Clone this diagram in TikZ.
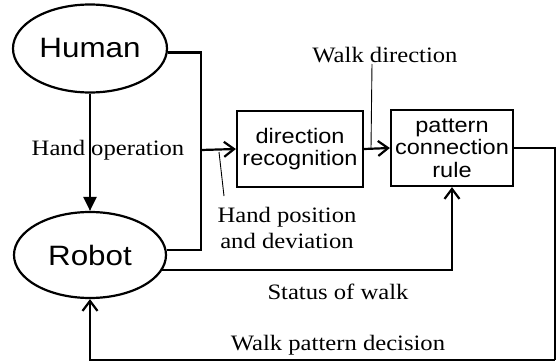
\documentclass[tikz,border=0pt]{standalone}
\usepackage{fontspec}
\setmainfont{Liberation Serif}[FakeStretch=1.12]
\setsansfont{Liberation Sans}[FakeStretch=1.12]
\usepackage{tikz}
\usetikzlibrary{shapes.geometric, arrows.meta, positioning}

\begin{document}
\begin{tikzpicture}[x=1pt, y=-1pt,
  blob/.style={draw, ellipse, line width=2.2pt, inner sep=0pt,
               font=\sffamily\fontsize{28}{30}\selectfont},
  box/.style={draw, line width=2.2pt, align=center, inner sep=0pt,
              minimum height=76pt, font=\sffamily\fontsize{21}{22.5}\selectfont},
  lbl/.style={align=center, inner sep=0pt, font=\fontsize{22}{26}\selectfont},
  wire/.style={line width=2.2pt},
  open/.style={wire, -{Straight Barb[length=10pt, width=15pt]}},
  leader/.style={line width=0.9pt}
]
\useasboundingbox (0,0) rectangle (558,364);
\node[blob, minimum width=154pt, minimum height=88pt] (human) at (90, 48.5) {Human};
\node[blob, minimum width=152pt, minimum height=86pt] (robot) at (90, 255) {Robot};
\node[box, minimum width=126pt] (dirrec)  at (300, 149) {direction\\recognition};
\node[box, minimum width=122pt] (pattern) at (452, 148) {pattern\\connection\\rule};
\coordinate (jn) at (201, 150);
\coordinate (fb) at (555, 360);
\node[lbl] (handop)  at (108, 150) {Hand operation};
\node[lbl] (walkdir) at (385, 55)  {Walk direction};
\node[lbl] (handpos) at (287, 228) {Hand position\\and deviation};
\node[lbl] (status)  at (338, 292) {Status of walk};
\node[lbl] (decide)  at (338, 345) {Walk pattern decision};
% hand signals
\draw[wire] (human.-3) -| (jn);
\draw[wire] (robot.4) -| (jn);
\draw[open] (jn) -- (dirrec.west);
\draw[open] (dirrec.east) -- (pattern.west);
\draw[wire, -{Triangle[length=14pt, width=13pt]}] (human.south) -- (robot.north);
% walk feedback
\draw[open] (robot.-12) -| (pattern.south);
\draw[wire] (pattern.east) -| (fb);
\draw[open] (fb) -| (robot.south);
% leaders
\draw[leader] (372, 64) -- (371, 149);
\draw[leader] (219, 152) -- (224, 196);
\end{tikzpicture}
\end{document}
